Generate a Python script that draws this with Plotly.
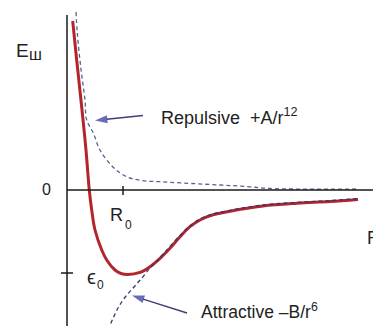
import plotly.graph_objects as go

# ---- data (r in units of R0, E in units of epsilon0) ----
total_r = [0.102, 0.173, 0.268, 0.339, 0.398, 0.441, 0.50, 0.62, 0.709, 0.857, 0.964,
           1.089, 1.304, 1.482, 1.661, 1.839, 2.018, 2.196, 2.375, 2.554, 2.911,
           3.50, 4.107, 4.696, 5.196]
total_E = [2.036, 1.566, 0.964, 0.482, 0.0, -0.241, -0.482, -0.723, -0.843, -0.964, -1.006,
           -1.018, -0.992, -0.924, -0.823, -0.702, -0.563, -0.442, -0.361, -0.310, -0.256,
           -0.193, -0.160, -0.139, -0.114]

rep_r = [0.161, 0.184, 0.245, 0.321, 0.352, 0.470, 0.589, 0.821, 1.066, 1.357,
         1.661, 2.071, 2.732, 3.214, 3.625, 5.179]
rep_E = [2.145, 1.892, 1.482, 1.084, 0.843, 0.687, 0.482, 0.277, 0.160, 0.112,
         0.100, 0.084, 0.060, 0.042, 0.018, 0.012]

att_r = [0.732, 0.911, 1.054, 1.196, 1.339, 1.482, 1.607, 1.750, 2.018, 2.196,
         2.375, 2.554, 2.911, 3.50, 4.107, 4.696, 5.196]
att_E = [-1.687, -1.422, -1.277, -1.169, -1.060, -0.940, -0.855, -0.747, -0.548, -0.431,
         -0.349, -0.299, -0.245, -0.181, -0.149, -0.128, -0.104]

# ---- layout helpers (pixel -> data) ----
W, H = 373, 326
X0, Y0, SX, SY = 67.0, 190.0, 56.0, 83.0
def dx(px): return (px - X0) / SX
def dy(py): return (Y0 - py) / SY

fig = go.Figure()
fig.add_trace(go.Scatter(x=rep_r, y=rep_E, mode="lines", line=dict(color="#56628f", width=1.3, dash="4px,3px"),
                         line_shape="spline", hoverinfo="skip"))
fig.add_trace(go.Scatter(x=total_r, y=total_E, mode="lines", line=dict(color="#b3252b", width=3),
                         line_shape="spline", hoverinfo="skip"))
fig.add_trace(go.Scatter(x=att_r, y=att_E, mode="lines", line=dict(color="#34396b", width=1.3, dash="4px,3px"),
                         line_shape="spline", hoverinfo="skip"))

# arrows (tail -> tip)
arrows = [((143, 115.5), (95, 120.5)), ((187, 313), (132, 295.5))]
for (tx, ty), (hx, hy) in arrows:
    fig.add_trace(go.Scatter(x=[dx(tx), dx(hx)], y=[dy(ty), dy(hy)], mode="lines+markers",
                             line=dict(color="#3d3f78", width=1.4),
                             marker=dict(symbol="arrow", size=[0, 13], angleref="previous",
                                         color="#2a2f95", line=dict(width=0)),
                             hoverinfo="skip"))

shapes = [
    dict(type="line", x0=dx(67), x1=dx(67), y0=dy(15), y1=dy(330), line=dict(color="#1a1a1a", width=1.5)),
    dict(type="line", x0=dx(67), x1=dx(380), y0=0, y1=0, line=dict(color="#1a1a1a", width=1.5)),
    dict(type="line", x0=1, x1=1, y0=dy(186), y1=dy(195), line=dict(color="#1a1a1a", width=1.5)),
    dict(type="line", x0=dx(61), x1=dx(73), y0=-1, y1=-1, line=dict(color="#1a1a1a", width=1.5)),
]

FONT = "Liberation Sans, Arial, sans-serif"
def ann(text, px, py, size, xanchor="left"):
    return dict(text=text, x=dx(px), y=dy(py), xref="x", yref="y", showarrow=False,
                xanchor=xanchor, yanchor="middle", font=dict(family=FONT, size=size, color="#222"))

annotations = [
    ann("E", 14, 50, 19),
    ann("ш", 27, 54, 16),
    ann("0", 46, 189, 16, "center"),
    ann("R", 116, 215, 18, "center"),
    ann("0", 128.5, 225, 12, "center"),
    ann("ϵ", 91, 277, 20, "center"),
    ann("0", 100, 285, 12, "center"),
    ann("Repulsive  +A/r<sup>12</sup>", 159, 116, 18),
    ann("Attractive –B/r<sup>6</sup>", 199, 311, 17.5),
    ann("R", 365, 238, 18),
]

fig.update_layout(
    width=W, height=H, autosize=False,
    margin=dict(l=0, r=0, t=0, b=0, pad=0),
    paper_bgcolor="white", plot_bgcolor="white",
    showlegend=False,
    xaxis=dict(range=[dx(0), dx(W)], visible=False, fixedrange=True),
    yaxis=dict(range=[dy(H), dy(0)], visible=False, fixedrange=True),
    shapes=shapes, annotations=annotations,
)
fig.write_html("out.html")
